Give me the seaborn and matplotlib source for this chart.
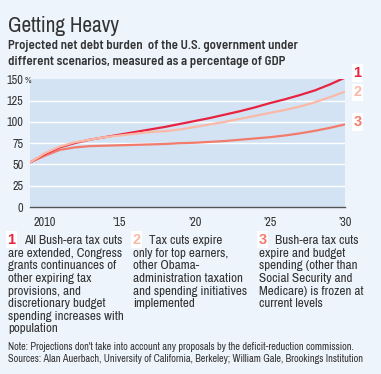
#!/usr/bin/env python3

import matplotlib
matplotlib.use("Agg")
import matplotlib.pyplot as plt
from matplotlib import font_manager
from matplotlib.font_manager import FontProperties
from matplotlib.textpath import TextPath
import pandas as pd
import seaborn as sns

YEARS = list(range(2009, 2031))
SCENARIO_1 = [52, 62, 70, 75, 79, 82, 85, 88, 91, 94, 97.5, 101,
              104.5, 108.5, 112.5, 117, 122, 126.5, 131.5, 137, 144, 152]
SCENARIO_2 = [52, 63, 71, 76, 79, 82, 84, 86, 88, 89, 91, 94,
              97, 100, 103.5, 107, 110.5, 114, 118, 123, 129, 135.5]
SCENARIO_3 = [52, 60, 67, 70, 71.5, 72, 72.5, 73, 73.5, 74, 75, 75.5,
              76.5, 77.5, 79, 80.5, 82, 84, 86.5, 89.5, 93, 97]
SCENARIO_NAMES = ["1", "2", "3"]
COLORS = {"1": "#E8233F", "2": "#F9B9A6", "3": "#F27B6C"}

Y_TICKS = [0, 25, 50, 75, 100, 125, 150]
X_TICK_LABELS = {2010: "2010", 2015: "\u201915", 2020: "\u201920",
                 2025: "\u201925", 2030: "\u201930"}

TITLE = "Getting Heavy"
SUBTITLE = ["Projected net debt burden  of the U.S. government under",
            "different scenarios, measured as a percentage of GDP"]
LEGEND_TEXT = {
    "1": ["All Bush-era tax cuts", "are extended, Congress",
          "grants continuances of", "other expiring tax",
          "provisions, and", "discretionary budget",
          "spending increases with", "population"],
    "2": ["Tax cuts expire", "only for top earners,", "other Obama-",
          "administration taxation", "and spending initiatives",
          "implemented"],
    "3": ["Bush-era tax cuts", "expire and budget", "spending (other than",
          "Social Security and", "Medicare) is frozen at", "current levels"],
}
NOTE = ["Note: Projections don't take into account any proposals by the deficit-reduction commission.",
        "Sources: Alan Auerbach, University of California, Berkeley; William Gale, Brookings Institution"]

W, H = 381, 374
FIG_BG = "#EEF4FC"
AX_BG = "#D3E3F4"
TEXT = "#333333"

sns.set_style("white")
names = {f.name for f in font_manager.fontManager.ttflist}
NARROW = next((n for n in ["Archivo Narrow", "Barlow Semi Condensed", "Liberation Sans"]
               if n in names), "DejaVu Sans")
SEMI = next((n for n in ["Barlow Semi Condensed", "Archivo Narrow", "Liberation Sans"]
             if n in names), "DejaVu Sans")
plt.rcParams["font.family"] = [NARROW, "DejaVu Sans"]


def fit_size(text, target_px, family=NARROW, weight="normal"):
    # font size (pt) that makes the ink of `text` target_px wide at 100 dpi
    tp = TextPath((0, 0), text, size=10, prop=FontProperties(family=family, weight=weight))
    return 10 * target_px * 0.72 / tp.get_extents().width


def fx(x):
    return x / W


def fy(y):
    return 1 - y / H


title_fs = fit_size(TITLE, 110)
sub_fs = fit_size(SUBTITLE[0], 288, SEMI, "semibold")
legend_fs = fit_size(LEGEND_TEXT["1"][0], 98)
note_fs = fit_size(NOTE[0], 344)
ytick_fs = fit_size("125", 15.7)
xtick_fs = ytick_fs

df = pd.DataFrame({
    "year": YEARS * 3,
    "value": SCENARIO_1 + SCENARIO_2 + SCENARIO_3,
    "scenario": sum([[n] * len(YEARS) for n in SCENARIO_NAMES], []),
})

fig = plt.figure(figsize=(W / 100, H / 100), dpi=100, facecolor=FIG_BG)
ax = fig.add_axes([fx(29.5), fy(207), fx(345) - fx(29.5), fy(79.3) - fy(207)])
ax.set_facecolor(AX_BG)

for y in Y_TICKS[1:-1]:
    ax.axhline(y, color="white", linewidth=1.0, zorder=1)

sns.lineplot(data=df, x="year", y="value", hue="scenario",
             hue_order=["3", "1", "2"], palette=COLORS, linewidth=1.6,
             legend=False, ax=ax, zorder=3)

ax.set_xlim(2009, 2030)
ax.set_ylim(0, 150)
ax.set_xlabel("")
ax.set_ylabel("")
for side in ["top", "right", "left"]:
    ax.spines[side].set_visible(False)
ax.spines["bottom"].set_color("#555555")
ax.spines["bottom"].set_linewidth(1.0)

ax.set_xticks(YEARS)
ax.set_xticklabels([X_TICK_LABELS.get(y, "") for y in YEARS])
ax.tick_params(axis="x", direction="out", length=3.5, width=0.6,
               color="#777777", labelsize=xtick_fs, labelcolor=TEXT, pad=3.5)
ax.set_yticks(Y_TICKS)
ax.set_yticklabels([str(v) for v in Y_TICKS])
ax.tick_params(axis="y", length=0, labelsize=ytick_fs, labelcolor=TEXT, pad=4.5)
fig.text(fx(25), fy(80.5), "%", fontsize=ytick_fs * 0.75, color=TEXT, ha="left", va="center")

# end-of-line numbers
for name, yv in zip(SCENARIO_NAMES, [73, 92.5, 122]):
    fig.text(fx(357.5), fy(yv), name, fontsize=10.5, fontweight="bold",
             color=COLORS[name], ha="center", va="center", family="Liberation Sans",
             bbox=dict(facecolor="white", edgecolor="none", pad=1.2))

fig.text(fx(8), fy(26), TITLE, fontsize=title_fs, color=TEXT,
         ha="left", va="center")
for i, line in enumerate(SUBTITLE):
    fig.text(fx(8), fy(46.5 + i * 15.5), line, fontsize=sub_fs, color=TEXT,
             family=SEMI, fontweight="semibold", ha="left", va="center")

# legend columns
for name, x0 in zip(SCENARIO_NAMES, [8, 133, 259]):
    fig.text(fx(x0 + 3.5), fy(239.5), name, fontsize=10.5, fontweight="bold",
             color=COLORS[name], ha="center", va="center", family="Liberation Sans",
             bbox=dict(facecolor="white", edgecolor="none", pad=1.2))
    lines = LEGEND_TEXT[name]
    fig.text(fx(x0 + 16), fy(240.5), lines[0], fontsize=legend_fs, color=TEXT,
             ha="left", va="center")
    for i, line in enumerate(lines[1:]):
        fig.text(fx(x0), fy(253.3 + i * 12.6), line, fontsize=legend_fs,
                 color=TEXT, ha="left", va="center")

for i, line in enumerate(NOTE):
    fig.text(fx(8), fy(347 + i * 11.7), line, fontsize=note_fs, color=TEXT,
             ha="left", va="center")

fig.savefig("out.png", dpi=100, facecolor=FIG_BG)
